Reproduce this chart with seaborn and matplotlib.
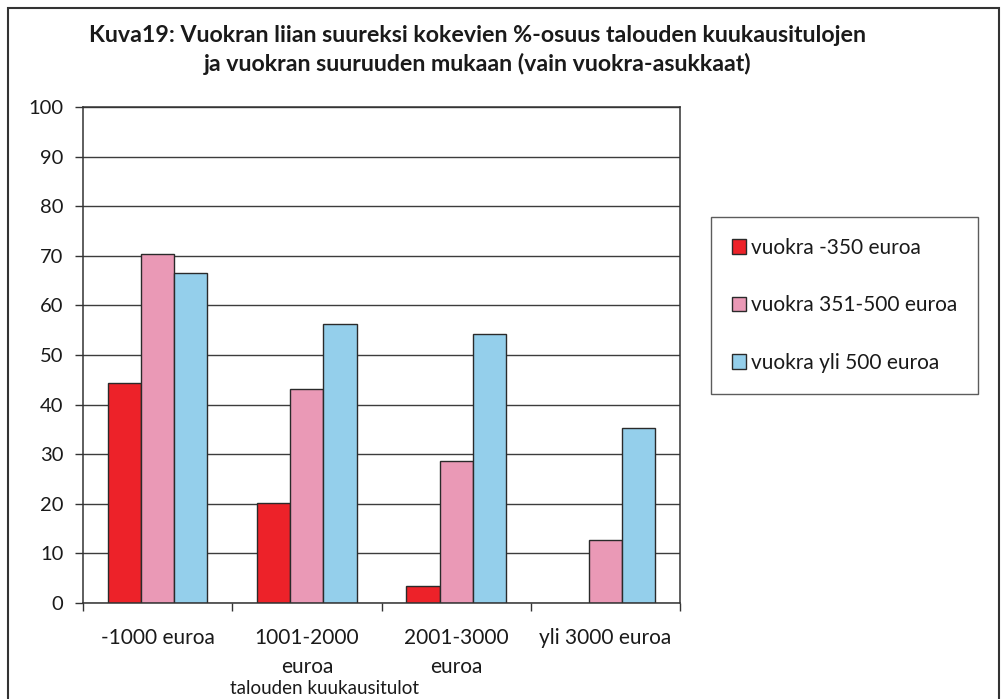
import numpy as np
import pandas as pd
import seaborn as sns
import matplotlib
import matplotlib.pyplot as plt
from matplotlib.patches import Rectangle

matplotlib.use('Agg')

# =================================== DATA ===================================

income_groups = ['-1000 euroa', '1001-2000\neuroa', '2001-3000\neuroa', 'yli 3000 euroa']
rent_classes = ['vuokra -350 euroa', 'vuokra 351-500 euroa', 'vuokra yli 500 euroa']

rent_low = [44.4, 20.2, 3.4, np.nan]
rent_mid = [70.4, 43.1, 28.6, 12.8]
rent_high = [66.6, 56.2, 54.2, 35.3]

colors = ['#ED2229', '#EA99B6', '#94CFEB']

title_text = ('Kuva19: Vuokran liian suureksi kokevien %-osuus talouden kuukausitulojen\n'
              'ja vuokran suuruuden mukaan (vain vuokra-asukkaat)')
x_label = 'talouden kuukausitulot'

# =================================== PLOT ===================================

rows = []
for series_name, values in zip(rent_classes, [rent_low, rent_mid, rent_high]):
    for group, value in zip(income_groups, values):
        rows.append({'group': group, 'rent': series_name, 'share': value})
dataframe = pd.DataFrame(rows)

sns.set_style('white')
plt.rcParams['font.family'] = ['Lato', 'DejaVu Sans']

W, H = 1002, 699
TEXT = '#1a1a1a'
fig = plt.figure(figsize=(W / 100, H / 100), dpi=100)
ax = fig.add_axes([83 / W, 1 - 603 / H, 597 / W, 496 / H])

sns.barplot(data=dataframe, x='group', y='share', hue='rent', order=income_groups,
            hue_order=rent_classes, palette=colors, saturation=1, width=0.665,
            edgecolor='#2a2a2a', linewidth=1.0, ax=ax, legend=True)

ax.set_ylim(0, 100)
ax.set_xlim(-0.5, 3.5)
ax.set_yticks(range(0, 101, 10))
ax.yaxis.grid(True, color='#3c3c3c', linewidth=1.0)
ax.set_axisbelow(True)

for spine in ax.spines.values():
    spine.set_visible(True)
    spine.set_color('#333333')
    spine.set_linewidth(1.1)

ax.tick_params(axis='y', which='major', direction='out', length=6, width=1, color='#333333',
               pad=8, labelsize=14.5, left=True, labelcolor=TEXT)
ax.set_xticks(range(len(income_groups)))
ax.set_xticklabels(income_groups, linespacing=1.55)
ax.set_xticks([-0.5, 0.5, 1.5, 2.5, 3.5], minor=True)
ax.tick_params(axis='x', which='major', length=0, pad=18, labelsize=15, labelcolor=TEXT)
ax.tick_params(axis='x', which='minor', direction='out', length=6, width=1, color='#333333', bottom=True)

ax.set_ylabel('')
ax.set_xlabel(x_label, fontsize=13.5, color=TEXT)
ax.xaxis.set_label_coords(0.404, -0.155)

handles, labels = ax.get_legend_handles_labels()
ax.get_legend().remove()
legend = fig.legend(handles, labels, loc='upper left', bbox_to_anchor=(711 / W, 1 - 217 / H),
                    borderaxespad=0, fontsize=15, frameon=True, fancybox=False, borderpad=1.0,
                    labelspacing=1.8, handlelength=0.7, handleheight=0.7, handletextpad=0.2)
legend.get_frame().set_edgecolor('#333333')
legend.get_frame().set_linewidth(1.0)
for text in legend.get_texts():
    text.set_color(TEXT)

fig.text(0.477, 1 - 50 / H, title_text, ha='center', va='center', fontsize=16.7,
         fontweight='bold', linespacing=1.35, color=TEXT)

fig.patches.append(Rectangle((8 / W, -0.05), (999 - 8) / W, 1.05 - 8 / H, transform=fig.transFigure,
                             fill=False, edgecolor='#333333', linewidth=1.5))

plt.savefig('out.png', dpi=100)
plt.close('all')
